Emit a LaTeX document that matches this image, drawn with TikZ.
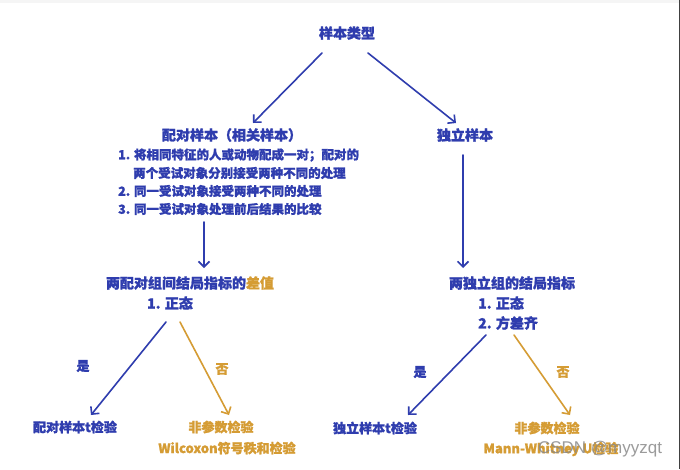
\documentclass[tikz,border=0pt]{standalone}
\usepackage{fontspec}
\setmainfont{Noto Sans CJK SC}[BoldFeatures={FakeBold=1.3}]
\newfontfamily\wmfont{Liberation Sans}
\usetikzlibrary{arrows.meta,calc}
\definecolor{navy}{HTML}{2F3DAE}
\definecolor{gold}{HTML}{D59C34}
\definecolor{wm}{HTML}{8A8A8A}
\begin{document}
\begin{tikzpicture}[x=1pt,y=-1pt,
  hd/.style={font=\bfseries\fontsize{14}{16}\selectfont, text=navy, inner sep=0pt},
  li/.style={font=\bfseries\fontsize{12.5}{14}\selectfont, text=navy, inner sep=0pt, anchor=west},
  lf/.style={font=\bfseries\fontsize{13}{15}\selectfont, inner sep=0pt},
  arr/.style={-{Straight Barb[length=5.5pt,width=11pt]}, line width=1.6pt, line cap=round},
  blue arr/.style={arr, draw=navy},
  gold arr/.style={arr, draw=gold}]
\useasboundingbox (0,0) rectangle (680,469);
\fill[white] (0,0) rectangle (680,469);
\fill[black!4] (0,0) rectangle (680,3);
\fill[black!75] (679,0) rectangle (680,469);
% nodes
\node[hd] (root) at (347,33) {样本类型};
\node[hd] (paired) at (232,135) {配对样本（相关样本）};
\node[hd] (indep) at (465,135) {独立样本};
\node[li] (l1) at (118,155) {1. 将相同特征的人或动物配成一对；配对的};
\node[li] (l2) at (133,173) {两个受试对象分别接受两种不同的处理};
\node[li] (l3) at (118,191) {2. 同一受试对象接受两种不同的处理};
\node[li] (l4) at (118,209) {3. 同一受试对象处理前后结果的比较};
\node[hd] (diff) at (190,283) {两配对组间结局指标的\textcolor{gold}{差值}};
\node[hd] (norm1) at (170,303) {1. 正态};
\node[hd] (indres) at (512,283) {两独立组的结局指标};
\node[hd, anchor=west] (norm2) at (478,303) {1. 正态};
\node[hd, anchor=west] (var) at (478,323) {2. 方差齐};
\node[lf, text=navy] (yes1) at (83,366) {是};
\node[lf, text=gold] (no1) at (222,369) {否};
\node[lf, text=navy] (yes2) at (420,372) {是};
\node[lf, text=gold] (no2) at (563,372) {否};
\node[lf, text=navy] (ptest) at (75,427) {配对样本t检验};
\node[lf, text=gold] (np1) at (221,427) {非参数检验};
\node[lf, text=gold] (wil) at (227,448) {Wilcoxon符号秩和检验};
\node[lf, text=navy] (itest) at (375,428) {独立样本t检验};
\node[lf, text=gold] (np2) at (547,428) {非参数检验};
\node[lf, text=gold] (mw) at (551,449) {Mann-Whitney U检验};
\node[font=\wmfont\fontsize{17}{19}\selectfont, text=wm, opacity=0.85, inner sep=0pt] (wmk) at (600,449) {CSDN @myyzqt};
% connectors
\draw[blue arr] ($(root.center)+(-25,20)$) -- ($(paired.center)+(21,-12)$);
\draw[blue arr] ($(root.center)+(21,20)$) -- ($(indep.center)+(-9,-12)$);
\draw[blue arr] ($(l4.west)+(86,13)$) -- ($(diff.center)+(14,-15)$);
\draw[blue arr] ($(indep.center)+(-2,20)$) -- ($(indres.center)+(-49,-15)$);
\draw[blue arr] ($(norm1.center)+(-4,19)$) -- ($(ptest.center)+(16,-12)$);
\draw[gold arr] ($(norm1.center)+(10,19)$) -- ($(np1.center)+(8,-12)$);
\draw[blue arr] ($(var.west)+(8,12)$) -- ($(itest.center)+(33,-13)$);
\draw[gold arr] ($(var.west)+(36,12)$) -- ($(np2.center)+(23,-13)$);
\end{tikzpicture}
\end{document}
